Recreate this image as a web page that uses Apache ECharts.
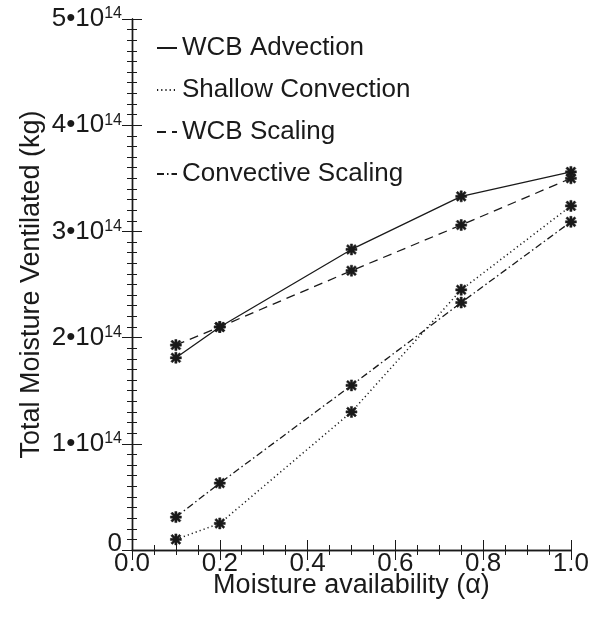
<!DOCTYPE html>
<html>
<head>
<meta charset="utf-8">
<script src="https://cdn.jsdelivr.net/npm/echarts@6/dist/echarts.min.js"></script>
<style>html,body{margin:0;padding:0;background:#fff}#c{width:592px;height:619px}</style>
</head>
<body>
<div id="c"></div>
<script>
const alphaValues = [0.1, 0.2, 0.5, 0.75, 1.0];
const wcbAdvection = [1.81e14, 2.10e14, 2.83e14, 3.33e14, 3.56e14];
const shallowConvection = [0.10e14, 0.25e14, 1.30e14, 2.45e14, 3.24e14];
const wcbScaling = [1.93e14, 2.10e14, 2.63e14, 3.06e14, 3.50e14];
const convectiveScaling = [0.31e14, 0.63e14, 1.55e14, 2.33e14, 3.09e14];
const seriesNames = ['WCB Advection', 'Shallow Convection', 'WCB Scaling', 'Convective Scaling'];
const xTicks = [0, 0.2, 0.4, 0.6, 0.8, 1.0];
const yTicks = [0, 1e14, 2e14, 3e14, 4e14, 5e14];

const ink = '#1a1a1a';
const FONT = 'Liberation Sans, Arial, Helvetica, sans-serif';
const FS = 26;
const FT = 27;
const star = 'path://M0,8 L20,8 L20,12 L0,12 Z M8,0 L12,0 L12,20 L8,20 Z M0.8,3.6 L3.6,0.8 L19.2,16.4 L16.4,19.2 Z M16.4,0.8 L19.2,3.6 L3.6,19.2 L0.8,16.4 Z';

function pairs(vals) { return alphaValues.map((a, i) => [a, vals[i]]); }

const dashTypes = ['solid', [1.2, 3], [9, 6], [7, 3, 1.5, 3]];
const widths = [1.3, 1.5, 1.3, 1.3];
const allVals = [wcbAdvection, shallowConvection, wcbScaling, convectiveScaling];

const series = allVals.map((v, i) => ({
  name: seriesNames[i],
  type: 'line',
  data: pairs(v),
  symbol: star,
  symbolSize: 11,
  showSymbol: true,
  itemStyle: { color: ink, borderWidth: 0.5, borderColor: ink },
  lineStyle: { color: ink, width: widths[i], type: dashTypes[i] },
  animation: false,
  z: 3
}));

const commonAxisLine = { show: true, lineStyle: { color: ink, width: 1.4 } };
const tickStyle = { color: ink, width: 1 };
const chart = echarts.init(document.getElementById('c'), null, { renderer: 'canvas' });
chart.setOption({
  backgroundColor: '#fff',
  textStyle: { fontFamily: FONT },
  grid: { left: 132, right: 20, top: 19, bottom: 69 },
  legend: {
    orient: 'vertical',
    left: 151,
    top: 30,
    itemWidth: 20,
    itemHeight: 14,
    itemGap: 16,
    itemStyle: { opacity: 0 },
    textStyle: { fontFamily: FONT, fontSize: FS, color: ink },
    data: seriesNames
  },
  xAxis: [{
    type: 'value', min: 0, max: 1, interval: 0.2, position: 'bottom',
    axisLine: commonAxisLine,
    axisTick: { show: true, inside: true, length: 10, lineStyle: tickStyle },
    minorTick: { show: true, splitNumber: 4, length: 5, lineStyle: tickStyle },
    splitLine: { show: false },
    axisLabel: { fontSize: FS, color: ink, margin: 1, fontFamily: FONT, formatter: v => v.toFixed(1) },
    name: 'Moisture availability (\u03B1)', nameLocation: 'middle', nameGap: 36,
    nameMoveOverlap: false,
    nameTextStyle: { fontSize: FT, color: ink, fontFamily: FONT, verticalAlign: 'middle' }
  }, {
    type: 'value', min: 0, max: 1, interval: 0.2, position: 'top',
    axisLine: commonAxisLine,
    axisTick: { show: true, inside: true, length: 10, lineStyle: tickStyle },
    minorTick: { show: true, splitNumber: 4, length: 5, lineStyle: tickStyle },
    splitLine: { show: false },
    axisLabel: { show: false }
  }],
  yAxis: [{
    type: 'value', min: 0, max: 5e14, interval: 1e14, position: 'left',
    axisLine: commonAxisLine,
    axisTick: { show: true, inside: true, length: 10, lineStyle: tickStyle },
    minorTick: { show: true, splitNumber: 10, length: 5, lineStyle: tickStyle },
    splitLine: { show: false },
    axisLabel: {
      margin: 10, color: ink, fontFamily: FONT, fontSize: FS,
      formatter: v => v === 0 ? '{z|0}' : '{b|' + Math.round(v / 1e14) + '\u202210}{s|14}',
      rich: {
        b: { fontSize: FS, color: ink, fontFamily: FONT },
        z: { fontSize: FS, color: ink, fontFamily: FONT, padding: [0, 0, 12, 0] },
        s: { fontSize: 16, color: ink, fontFamily: FONT, verticalAlign: 'bottom', padding: [0, 0, 10, 0] }
      }
    },
    name: 'Total Moisture Ventilated (kg)', nameLocation: 'middle', nameGap: 100, nameRotate: 90,
    nameMoveOverlap: false,
    nameTextStyle: { fontSize: FT, color: ink, fontFamily: FONT, verticalAlign: 'middle' }
  }, {
    type: 'value', min: 0, max: 5e14, interval: 1e14, position: 'right',
    axisLine: commonAxisLine,
    axisTick: { show: true, inside: true, length: 10, lineStyle: tickStyle },
    minorTick: { show: true, splitNumber: 10, length: 5, lineStyle: tickStyle },
    splitLine: { show: false },
    axisLabel: { show: false }
  }],
  series: series
});
</script>
</body>
</html>
